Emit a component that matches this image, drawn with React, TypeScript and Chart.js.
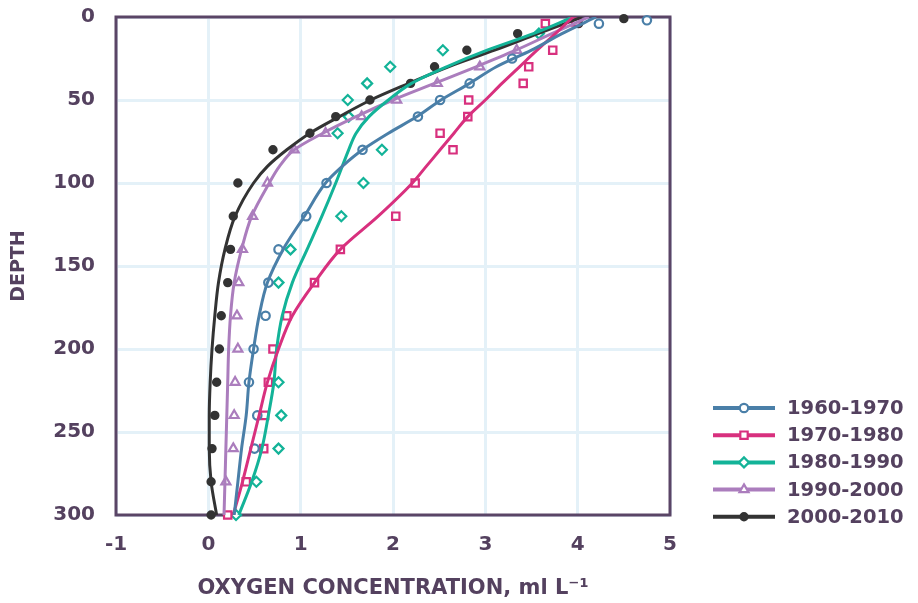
import React, { useEffect, useRef } from 'react';
import { Chart, registerables } from 'chart.js';
import { drawPoint } from 'chart.js/helpers';

Chart.register(...registerables);

const TEXT = '#54415f';
const FRAME = '#5a4566';
const GRID = '#e4f1f8';
const FONT = "'DejaVu Sans', sans-serif";

const seriesNames = ['1960-1970', '1970-1980', '1980-1990', '1990-2000', '2000-2010'];
const seriesColors = ['#4a7fa8', '#d8307e', '#13b398', '#ab7dbd', '#333333'];
const pointStyles = ['circle', 'rect', 'rectRot', 'triangle', 'circle'];
const pointRadii = [4.2, 5.2, 5, 5.2, 3.6];

// x-axis ticks and y-axis ticks
const xTicks = [-1, 0, 1, 2, 3, 4, 5];
const yTicks = [0, 50, 100, 150, 200, 250, 300];

// Observed samples (depth, oxygen)
const blueDepth = [2, 4, 25, 40, 50, 60, 80, 100, 120, 140, 160, 180, 200, 220, 240, 260];
const blueOxy = [4.75, 4.23, 3.29, 2.83, 2.51, 2.27, 1.67, 1.28, 1.06, 0.76, 0.65, 0.62, 0.49, 0.44, 0.53, 0.5];

const pinkDepth = [3, 4, 20, 30, 40, 50, 60, 70, 80, 100, 120, 140, 160, 180, 200, 220, 240, 260, 280, 300];
const pinkOxy = [3.98, 3.65, 3.73, 3.47, 3.41, 2.82, 2.81, 2.51, 2.65, 2.24, 2.03, 1.43, 1.15, 0.85, 0.7, 0.65, 0.61, 0.6, 0.41, 0.21];

const tealDepth = [10, 20, 30, 40, 50, 60, 70, 80, 100, 120, 140, 160, 220, 240, 260, 280, 300];
const tealOxy = [3.58, 2.54, 1.97, 1.72, 1.51, 1.52, 1.4, 1.88, 1.68, 1.44, 0.89, 0.76, 0.76, 0.79, 0.76, 0.52, 0.3];

const purpleDepth = [20, 30, 40, 50, 60, 70, 80, 100, 120, 140, 160, 180, 200, 220, 240, 260, 280];
const purpleOxy = [3.34, 2.94, 2.48, 2.04, 1.66, 1.27, 0.93, 0.64, 0.48, 0.37, 0.33, 0.31, 0.32, 0.29, 0.28, 0.27, 0.19];

const blackDepth = [1, 4, 10, 20, 30, 40, 50, 60, 70, 80, 100, 120, 140, 160, 180, 200, 220, 240, 260, 280, 300];
const blackOxy = [4.5, 4.01, 3.35, 2.8, 2.45, 2.19, 1.75, 1.38, 1.1, 0.7, 0.32, 0.27, 0.24, 0.21, 0.14, 0.12, 0.09, 0.07, 0.04, 0.03, 0.03];

// Fitted curves
const curveDepth = [0, 10, 20, 30, 40, 50, 60, 70, 80, 90, 100, 120, 140, 160, 180, 200, 220, 240, 260, 280, 300];
const blueCurve = [4.2, 3.83, 3.5, 3.12, 2.83, 2.52, 2.26, 1.95, 1.67, 1.45, 1.27, 1.04, 0.81, 0.64, 0.55, 0.49, 0.44, 0.41, 0.36, 0.32, 0.28];
const pinkCurve = [3.95, 3.76, 3.56, 3.37, 3.18, 3.0, 2.81, 2.66, 2.51, 2.36, 2.21, 1.84, 1.43, 1.15, 0.91, 0.76, 0.64, 0.55, 0.46, 0.37, 0.27];
const tealCurve = [3.95, 3.52, 3.02, 2.58, 2.2, 1.95, 1.74, 1.6, 1.52, 1.45, 1.38, 1.23, 1.07, 0.91, 0.8, 0.74, 0.71, 0.65, 0.58, 0.47, 0.33];
const purpleCurve = [4.12, 3.72, 3.33, 2.9, 2.45, 2.0, 1.6, 1.24, 0.93, 0.77, 0.66, 0.47, 0.36, 0.28, 0.24, 0.22, 0.21, 0.2, 0.19, 0.18, 0.17];
const blackCurve = [4.05, 3.57, 3.1, 2.6, 2.17, 1.76, 1.42, 1.1, 0.85, 0.64, 0.49, 0.29, 0.18, 0.11, 0.07, 0.04, 0.02, 0.01, 0.01, 0.03, 0.09];

const obsDepths = [blueDepth, pinkDepth, tealDepth, purpleDepth, blackDepth];
const obsOxy = [blueOxy, pinkOxy, tealOxy, purpleOxy, blackOxy];
const curves = [blueCurve, pinkCurve, tealCurve, purpleCurve, blackCurve];

const pts = (xs: number[], ys: number[]) => xs.map((x, i) => ({ x, y: ys[i] }));

const framePlugin = {
  id: 'frame',
  beforeDatasetsDraw(chart: any) {
    const { ctx, chartArea } = chart;
    ctx.save();
    ctx.strokeStyle = FRAME;
    ctx.lineWidth = 3;
    ctx.strokeRect(chartArea.left, chartArea.top, chartArea.right - chartArea.left, chartArea.bottom - chartArea.top);
    ctx.restore();
  },
};

const legendPlugin = {
  id: 'customLegend',
  afterDraw(chart: any) {
    const { ctx } = chart;
    ctx.save();
    const x0 = 713;
    const x1 = 775;
    const xm = 744;
    seriesNames.forEach((name, i) => {
      const y = 408 + i * 27.2;
      ctx.strokeStyle = seriesColors[i];
      ctx.lineWidth = 4;
      ctx.beginPath();
      ctx.moveTo(x0, y);
      ctx.lineTo(x1, y);
      ctx.stroke();
      ctx.fillStyle = i === 4 ? seriesColors[i] : '#ffffff';
      ctx.strokeStyle = seriesColors[i];
      ctx.lineWidth = 2.2;
      drawPoint(ctx, { pointStyle: pointStyles[i], radius: pointRadii[i], borderWidth: 2.2, rotation: 0 } as any, xm, y);
      ctx.fillStyle = TEXT;
      ctx.font = `bold 19.5px ${FONT}`;
      ctx.textBaseline = 'middle';
      ctx.textAlign = 'left';
      ctx.fillText(name, 787, y + 1);
    });
    ctx.restore();
  },
};

export default function App() {
  const ref = useRef<HTMLCanvasElement>(null);
  useEffect(() => {
    const canvas = ref.current;
    if (!canvas) return;
    const datasets: any[] = [];
    seriesNames.forEach((name, i) => {
      datasets.push({
        label: name + ' fit',
        data: pts(curves[i], curveDepth),
        showLine: true,
        indexAxis: 'y',
        cubicInterpolationMode: 'monotone',
        borderColor: seriesColors[i],
        borderWidth: 3,
        pointRadius: 0,
        fill: false,
        order: 0,
      });
      datasets.push({
        label: name,
        data: pts(obsOxy[i], obsDepths[i]),
        showLine: false,
        pointStyle: pointStyles[i],
        pointRadius: pointRadii[i],
        pointBorderWidth: 2.2,
        borderColor: seriesColors[i],
        backgroundColor: i === 4 ? seriesColors[i] : '#ffffff',
        clip: false,
        order: 1,
      });
    });
    const chart = new Chart(canvas, {
      type: 'scatter',
      data: { datasets },
      plugins: [framePlugin, legendPlugin],
      options: {
        animation: false,
        responsive: false,
        layout: { padding: { top: 17, right: 248, left: 0, bottom: 0 } },
        plugins: { legend: { display: false }, tooltip: { enabled: false } },
        scales: {
          x: {
            type: 'linear',
            min: xTicks[0],
            max: xTicks[xTicks.length - 1],
            afterBuildTicks: (s: any) => { s.ticks = xTicks.map((v) => ({ value: v })); },
            afterFit: (s: any) => { s.height = 88; s.paddingLeft = 0; s.paddingRight = 0; },
            ticks: { color: TEXT, font: { family: FONT, size: 20, weight: 'bold' }, padding: 18 },
            grid: { color: GRID, lineWidth: 3, drawTicks: false },
            border: { display: false },
            title: {
              display: true,
              text: 'OXYGEN CONCENTRATION, ml L\u207B\u00B9',
              color: TEXT,
              font: { family: FONT, size: 21, weight: 'bold' },
              padding: { top: 0, bottom: 2 },
            },
          },
          y: {
            type: 'linear',
            reverse: true,
            min: yTicks[0],
            max: yTicks[yTicks.length - 1],
            afterBuildTicks: (s: any) => { s.ticks = yTicks.map((v) => ({ value: v })); },
            afterFit: (s: any) => { s.width = 116; s.paddingTop = 0; s.paddingBottom = 0; },
            ticks: { color: TEXT, font: { family: FONT, size: 20, weight: 'bold' }, padding: 21 },
            grid: { color: GRID, lineWidth: 3, drawTicks: false },
            border: { display: false },
            title: {
              display: true,
              text: 'DEPTH',
              color: TEXT,
              font: { family: FONT, size: 19, weight: 'bold' },
              padding: { top: 8, bottom: 0 },
            },
          },
        },
      } as any,
    });
    return () => chart.destroy();
  }, []);
  return (
    <div style={{ position: 'fixed', left: 0, top: 0, width: 918, height: 603, background: '#fff' }}>
      <canvas ref={ref} width={918} height={603} />
    </div>
  );
}
